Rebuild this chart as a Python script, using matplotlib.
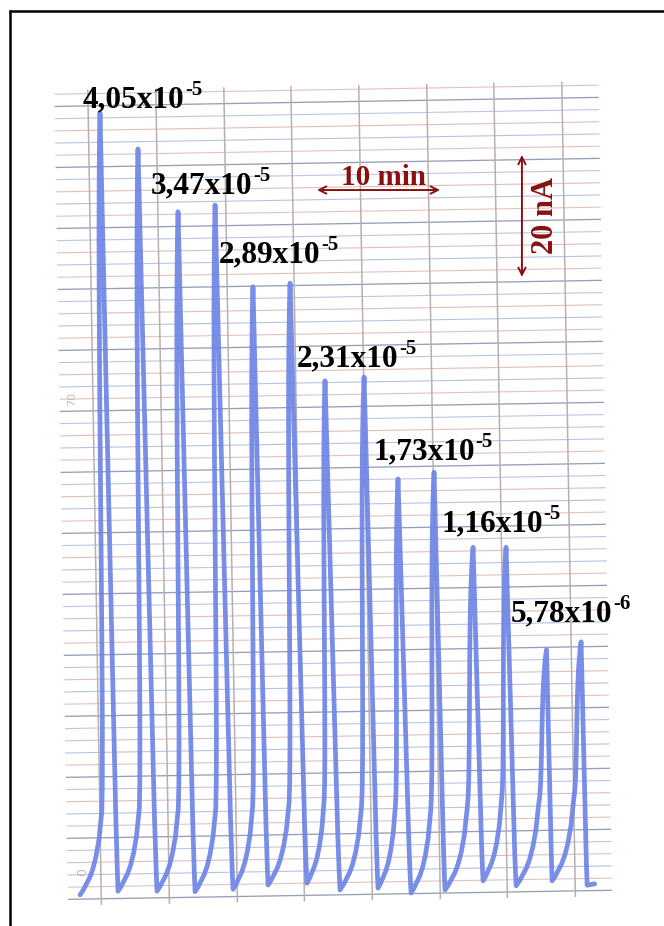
import matplotlib
matplotlib.use("Agg")
import matplotlib.pyplot as plt
from matplotlib.transforms import Affine2D
from matplotlib.collections import LineCollection

# ---------------- data (time in min, current in nA) ----------------
PEAK_T = [2.68, 5.72, 8.89, 11.91, 14.88, 17.90, 20.61, 23.79, 26.41, 29.35, 32.42, 35.10, 38.25, 41.07]
PEAK_I = [127.3, 121.3, 110.9, 111.9, 98.4, 98.9, 82.8, 83.3, 66.5, 67.5, 55.1, 55.0, 38.1, 39.3]
MIN_T = [0.0, 3.09, 6.26, 9.35, 12.44, 15.29, 18.46, 21.14, 24.23, 26.91, 29.67, 32.78, 35.46, 38.39, 41.23]
MIN_I = [-0.8, -0.3, -0.4, -0.6, -0.3, 0.3, 0.5, -0.7, -0.5, -1.4, -1.0, 0.4, -0.5, 0.2, -0.6]
TAIL_T = [41.85]
TAIL_I = [-0.4]

# slow part of each rise: fraction of rise time, nA above the minimum
RISE_F = [0.0, 0.1, 0.2, 0.3, 0.4, 0.5, 0.6, 0.7]
RISE_DI = [0.0, 0.8, 1.8, 2.8, 4.2, 6.2, 9.0, 13.5]
# fast part of the rise up to the peak: fraction of remaining time, fraction of remaining height
SPIKE_U = [0.1, 0.2, 0.3, 0.4, 0.5, 0.6, 0.7, 0.8, 0.9, 1.0]
SPIKE_G = [0.04, 0.12, 0.25, 0.42, 0.6, 0.73, 0.83, 0.9, 0.96, 1.0]
# fall back to the minimum: fraction of fall time, fraction of peak height
FALL_F = [0.0, 0.35, 0.6, 0.8, 0.92, 1.0]
FALL_H = [1.0, 0.6, 0.3, 0.1, 0.03, 0.0]

LABELS = ["4,05x10", "3,47x10", "2,89x10", "2,31x10", "1,73x10", "1,16x10", "5,78x10"]
EXPONENTS = ["-5", "-5", "-5", "-5", "-5", "-5", "-6"]

SCALE_TIME = 10     # min
SCALE_CURRENT = 20  # nA

GRID_T = [1.72, 7.25, 12.78, 18.23, 23.75, 29.28, 34.73, 40.26]

# ---------------- figure ----------------
W, H = 664, 926
fig = plt.figure(figsize=(W / 100, H / 100), dpi=100)
fig.patch.set_facecolor("white")

ax = fig.add_axes([0, 0, 1, 1])
PX_T, PX_I = 12.3, 6.1   # pixels per min / per nA
X0, Y0 = 80, 890         # pixel of t=0, i=0 (image coords)
ax.set_xlim(-X0 / PX_T, (W - X0) / PX_T)
ax.set_ylim(-(H - Y0) / PX_I, Y0 / PX_I)
ax.axis("off")

# scanned chart paper is slightly rotated
rot = Affine2D().rotate_around(X0, H - Y0, 0.0167)
tr = ax.transData + rot

paper_t0, paper_t1 = -1.0, 43.25
paper_i0, paper_i1 = -2.5, 131.2

# horizontal rulings every 2 nA
segs, cols, lws = [], [], []
pattern = ["#9a9db9", "#e3c0c3", "#bcc0e2", "#e0bdc0", "#c0c4e4"]
k = 0
lev = -1.5
while lev <= 130.6:
    segs.append([(paper_t0, lev), (paper_t1, lev)])
    cols.append(pattern[k % 5])
    lws.append(0.95 if k % 5 == 0 else 0.8)
    lev += 2
    k += 1
ax.add_collection(LineCollection(segs, colors=cols, linewidths=lws, transform=tr, zorder=1))

# vertical rulings
vsegs = [[(t, paper_i0), (t, paper_i1)] for t in GRID_T]
ax.add_collection(LineCollection(vsegs, colors="#b8b0ae", linewidths=1.1, transform=tr, zorder=1.2))

# faint printed numbers of the paper
ax.text(0.0, 80.5, "70", rotation=90, fontsize=8, color="#c4bcb4", transform=tr,
        ha="center", va="center", zorder=1.5)
ax.text(0.2, 3.0, "0", rotation=90, fontsize=9, color="#c4bcb4", transform=tr,
        ha="center", va="center", zorder=1.5)

# ---------------- trace ----------------
xs, ys = [], []
for k in range(len(PEAK_T)):
    t0, i0 = MIN_T[k], MIN_I[k]
    tp, ip = PEAK_T[k], PEAK_I[k]
    t1, i1 = MIN_T[k + 1], MIN_I[k + 1]
    start = 0 if k == 0 else 1
    for f, d in list(zip(RISE_F, RISE_DI))[start:]:
        xs.append(t0 + f * (tp - t0))
        ys.append(i0 + d)
    tk, ik = xs[-1], ys[-1]
    for u, g in zip(SPIKE_U, SPIKE_G):
        xs.append(tk + u * (tp - tk))
        ys.append(ik + g * (ip - ik))
    for f, h in list(zip(FALL_F, FALL_H))[1:]:
        xs.append(tp + f * (t1 - tp))
        ys.append(i1 + h * (ip - i1))
xs += TAIL_T
ys += TAIL_I
ax.plot(xs, ys, color="#6e85e6", lw=3.4, solid_joinstyle="round", solid_capstyle="round",
        transform=tr, zorder=3, alpha=0.93)

# ---------------- scale bars ----------------
red = "#8a1010"
ha_t0, ha_i = 19.27, 114.75
ax.annotate("", xy=(ha_t0 + SCALE_TIME, ha_i), xytext=(ha_t0, ha_i),
            arrowprops=dict(arrowstyle="<->", color=red, lw=1.4, mutation_scale=13,
                            shrinkA=0, shrinkB=0), zorder=5)
ax.text(ha_t0 + SCALE_TIME / 2 + 0.4, ha_i + 0.8, f"{SCALE_TIME} min", ha="center", va="baseline",
        fontsize=21, fontweight="bold", family="Liberation Serif", color=red, zorder=5)

va_t, va_i0 = 35.93, 100.5
ax.annotate("", xy=(va_t, va_i0 + SCALE_CURRENT), xytext=(va_t, va_i0),
            arrowprops=dict(arrowstyle="<->", color=red, lw=1.4, mutation_scale=13,
                            shrinkA=0, shrinkB=0), zorder=5)
ax.text(va_t + 1.9, va_i0 + SCALE_CURRENT / 2, f"{SCALE_CURRENT} nA", rotation=90,
        ha="center", va="center", fontsize=22, fontweight="bold",
        family="Liberation Serif", color=red, zorder=5)

# ---------------- overlay (pixel coords) ----------------
ov = fig.add_axes([0, 0, 1, 1], facecolor="none")
ov.set_xlim(0, W)
ov.set_ylim(H, 0)
ov.axis("off")

LABEL_POS = [(83, 107), (151, 193), (219, 262), (297, 366), (373, 459), (441, 531), (511, 621)]
mains = []
for lab, (x, y) in zip(LABELS, LABEL_POS):
    t = ov.text(x, y, lab, ha="left", va="baseline", fontsize=22.5, fontweight="bold",
                family="Liberation Serif", color="black", zorder=6)
    mains.append(t)
fig.canvas.draw()
r = fig.canvas.get_renderer()
for t, ex, (x, y) in zip(mains, EXPONENTS, LABEL_POS):
    bb = t.get_window_extent(renderer=r)
    ov.text(bb.x1 + 0.5, y - 12, ex, ha="left", va="baseline", fontsize=15, fontweight="bold",
            family="Liberation Serif", color="black", zorder=6)

# frame (left and top edges)
ov.plot([9.5, 9.5], [10, H], color="black", lw=1.8, solid_capstyle="butt")
ov.plot([8.6, W], [11, 11], color="black", lw=1.8, solid_capstyle="butt")

fig.savefig("out.png", dpi=100, facecolor="white")
